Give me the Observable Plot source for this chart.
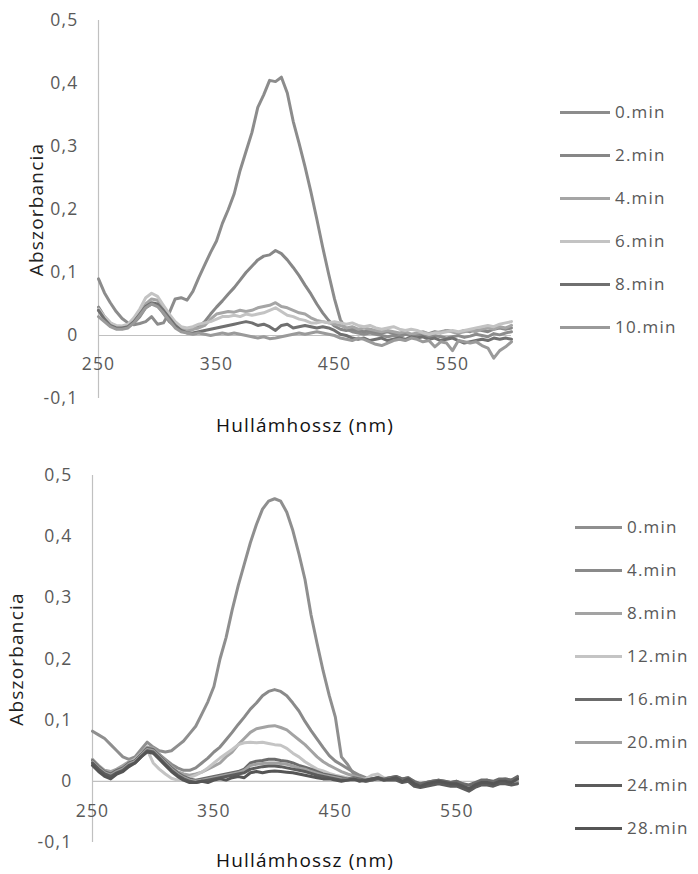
<!DOCTYPE html>
<html><head><meta charset="utf-8">
<script src="https://cdn.jsdelivr.net/npm/d3@7"></script>
<script src="https://cdn.jsdelivr.net/npm/@observablehq/plot@0.6"></script>
<style>
body{margin:0;background:#fff;width:698px;height:874px;position:relative;overflow:hidden;font-family:"Open Sans",Lato,sans-serif;}
.chart{position:absolute;left:0;}
.chart svg text{letter-spacing:1.2px;}
.item{position:absolute;display:flex;align-items:center;white-space:nowrap;font-size:17px;letter-spacing:1.2px;color:#595959;line-height:20px;}
.sw{display:inline-block;height:3px;margin-right:5px;}
</style></head><body>
<div id="top" class="chart" style="top:0"></div>
<div id="bottom" class="chart" style="top:440px"></div>
<div id="legTop"></div>
<div id="legBottom"></div>
<script>
const wavelengths = [250,255,260,265,270,275,280,285,290,295,300,305,310,315,320,325,330,335,340,345,350,355,360,365,370,375,380,385,390,395,400,405,410,415,420,425,430,435,440,445,450,455,460,465,470,475,480,485,490,495,500,505,510,515,520,525,530,535,540,545,550,555,560,565,570,575,580,585,590,595,600];
const xTicks = [250,350,450,550];
const yTicks = [-0.1,0,0.1,0.2,0.3,0.4,0.5];

// Chart 1
const names1 = ["0.min","2.min","4.min","6.min","8.min","10.min"];
const colors1 = ["#8c8c8c","#878787","#a5a5a5","#c3c3c3","#707070","#9a9a9a"];
const top_0min = [0.090,0.068,0.052,0.038,0.027,0.020,0.017,0.019,0.022,0.030,
 0.018,0.020,0.036,0.058,0.060,0.056,0.070,0.092,0.112,0.132,
 0.150,0.178,0.200,0.225,0.262,0.292,0.322,0.362,0.382,0.405,
 0.403,0.410,0.385,0.340,0.305,0.268,0.228,0.185,0.140,0.098,
 0.058,0.025,0.010,0.006,0.004,0.002,0.004,0.002,0.000,-0.002,
 0.000,-0.003,0.002,0.000,-0.002,0.001,-0.003,0.000,-0.002,-0.004,
 -0.002,0.000,-0.003,-0.001,0.002,0.000,-0.002,0.003,0.001,0.004,0.006];
const top_2min = [0.045,0.030,0.020,0.014,0.012,0.014,0.020,0.030,0.044,0.050,
 0.048,0.035,0.022,0.014,0.010,0.008,0.010,0.014,0.022,0.034,
 0.045,0.055,0.066,0.076,0.088,0.100,0.110,0.120,0.126,0.128,
 0.135,0.130,0.120,0.108,0.095,0.080,0.066,0.050,0.036,0.024,
 0.015,0.010,0.008,0.010,0.008,0.006,0.008,0.005,0.004,0.006,
 0.003,0.002,0.004,0.000,0.002,0.005,0.003,0.006,0.004,0.008,
 0.006,0.004,0.008,0.006,0.010,0.008,0.006,0.010,0.012,0.010,0.012];
const top_4min = [0.040,0.028,0.018,0.014,0.014,0.016,0.024,0.036,0.050,0.058,
 0.056,0.044,0.030,0.018,0.010,0.008,0.010,0.012,0.016,0.026,
 0.034,0.036,0.038,0.037,0.040,0.038,0.040,0.044,0.046,0.048,
 0.052,0.046,0.044,0.040,0.036,0.034,0.028,0.024,0.022,0.020,
 0.018,0.016,0.012,0.014,0.010,0.012,0.010,0.008,0.006,0.008,
 0.006,0.004,0.006,0.002,0.004,0.006,0.002,0.004,0.006,0.008,
 0.006,0.004,0.006,0.008,0.006,0.010,0.012,0.010,0.014,0.012,0.016];
const top_6min = [0.042,0.030,0.020,0.016,0.015,0.018,0.028,0.042,0.060,0.067,
 0.062,0.048,0.034,0.022,0.014,0.012,0.014,0.018,0.020,0.022,
 0.026,0.030,0.030,0.032,0.030,0.034,0.032,0.034,0.036,0.040,
 0.044,0.038,0.032,0.030,0.026,0.024,0.020,0.020,0.022,0.020,
 0.022,0.020,0.018,0.020,0.016,0.014,0.016,0.012,0.010,0.012,
 0.014,0.010,0.008,0.010,0.008,0.004,0.002,0.004,0.004,0.006,
 0.008,0.006,0.008,0.010,0.012,0.014,0.016,0.014,0.018,0.020,0.022];
const top_8min = [0.040,0.026,0.016,0.012,0.012,0.014,0.022,0.034,0.046,0.052,
 0.050,0.040,0.028,0.016,0.008,0.004,0.004,0.006,0.008,0.010,
 0.012,0.014,0.016,0.018,0.020,0.022,0.020,0.016,0.018,0.014,
 0.008,0.016,0.018,0.012,0.014,0.016,0.014,0.012,0.014,0.012,
 0.008,0.002,0.000,-0.004,-0.006,-0.004,-0.008,-0.006,-0.004,-0.008,
 -0.006,-0.004,-0.006,-0.002,-0.004,-0.002,-0.006,-0.004,-0.008,-0.006,
 -0.004,-0.008,-0.012,-0.010,-0.008,-0.006,-0.008,-0.004,-0.006,-0.004,-0.006];
const top_10min = [0.030,0.022,0.014,0.010,0.010,0.012,0.020,0.032,0.044,0.050,
 0.046,0.036,0.024,0.012,0.006,0.004,0.002,0.004,0.002,0.000,
 0.002,0.004,0.002,0.004,0.002,0.000,-0.002,-0.004,-0.002,-0.005,
 -0.004,-0.002,0.000,0.002,0.004,0.002,0.004,0.006,0.004,0.002,
 0.000,-0.004,-0.006,-0.008,-0.004,-0.006,-0.010,-0.014,-0.016,-0.012,
 -0.008,-0.006,-0.008,-0.004,-0.006,-0.010,-0.008,-0.018,-0.010,-0.012,
 -0.024,-0.008,-0.010,-0.012,-0.010,-0.016,-0.020,-0.036,-0.024,-0.018,-0.010];
const values1 = [top_0min, top_2min, top_4min, top_6min, top_8min, top_10min];

// Chart 2
const names2 = ["0.min","4.min","8.min","12.min","16.min","20.min","24.min","28.min"];
const colors2 = ["#8f8f8f","#8a8a8a","#a3a3a3","#c4c4c4","#6b6b6b","#a0a0a0","#5c5c5c","#555555"];
const bot_0min = [0.082,0.076,0.070,0.060,0.050,0.040,0.036,0.040,0.052,0.064,
 0.056,0.050,0.048,0.050,0.058,0.066,0.078,0.090,0.110,0.130,
 0.155,0.200,0.235,0.280,0.320,0.355,0.390,0.420,0.445,0.458,
 0.462,0.458,0.440,0.410,0.372,0.330,0.272,0.225,0.180,0.140,
 0.105,0.040,0.028,0.012,0.006,0.004,0.002,0.005,0.004,0.006,
 0.008,0.004,0.006,-0.002,-0.004,-0.002,0.000,0.002,0.000,-0.002,
 0.000,-0.004,-0.008,-0.004,0.000,0.002,-0.002,0.002,0.004,0.002,0.006];
const bot_4min = [0.030,0.022,0.016,0.014,0.018,0.024,0.030,0.034,0.044,0.054,
 0.052,0.044,0.036,0.028,0.022,0.018,0.018,0.022,0.030,0.038,
 0.048,0.056,0.068,0.080,0.093,0.105,0.118,0.128,0.140,0.147,
 0.150,0.147,0.140,0.128,0.115,0.098,0.083,0.069,0.055,0.042,
 0.033,0.027,0.021,0.015,0.010,0.006,0.004,0.006,0.004,0.006,
 0.006,0.002,0.004,-0.004,-0.006,-0.002,0.000,0.000,-0.002,-0.004,
 -0.002,-0.006,-0.010,-0.006,-0.002,0.000,-0.004,0.000,0.002,0.000,0.004];
const bot_8min = [0.036,0.026,0.018,0.016,0.020,0.026,0.032,0.036,0.046,0.056,
 0.054,0.044,0.034,0.024,0.016,0.012,0.010,0.012,0.015,0.020,
 0.025,0.030,0.040,0.048,0.060,0.070,0.080,0.086,0.088,0.090,
 0.091,0.088,0.084,0.076,0.068,0.060,0.050,0.040,0.032,0.026,
 0.021,0.016,0.012,0.009,0.006,0.004,0.002,0.006,0.004,0.004,
 0.006,0.002,0.002,-0.004,-0.006,-0.004,-0.002,0.000,-0.002,-0.004,
 -0.004,-0.008,-0.010,-0.006,-0.002,-0.002,-0.004,-0.002,0.000,-0.002,0.002];
const bot_12min = [0.028,0.020,0.014,0.012,0.016,0.022,0.030,0.036,0.046,0.052,
 0.030,0.020,0.012,0.005,0.002,0.003,0.006,0.010,0.015,0.022,
 0.030,0.038,0.045,0.052,0.060,0.063,0.064,0.063,0.064,0.062,
 0.060,0.059,0.054,0.046,0.040,0.032,0.026,0.020,0.017,0.013,
 0.010,0.008,0.006,0.004,0.002,0.004,0.010,0.012,0.006,0.004,
 0.004,0.000,0.002,-0.006,-0.008,-0.006,-0.004,-0.002,-0.004,-0.006,
 -0.006,-0.010,-0.012,-0.008,-0.004,-0.004,-0.006,-0.004,-0.002,-0.004,0.000];
const bot_16min = [0.034,0.024,0.016,0.012,0.018,0.022,0.030,0.034,0.044,0.054,
 0.052,0.042,0.032,0.022,0.014,0.008,0.004,0.002,0.004,0.006,
 0.008,0.010,0.012,0.014,0.016,0.020,0.030,0.033,0.034,0.036,
 0.036,0.034,0.033,0.030,0.026,0.023,0.020,0.016,0.012,0.010,
 0.008,0.006,0.004,0.006,0.004,0.002,0.004,0.006,0.004,0.006,
 0.008,0.004,0.006,0.000,-0.004,-0.002,0.000,0.002,0.000,-0.002,
 0.000,-0.004,-0.006,-0.002,0.002,0.002,0.000,0.004,0.004,0.002,0.008];
const bot_20min = [0.032,0.022,0.014,0.010,0.016,0.020,0.028,0.032,0.042,0.052,
 0.050,0.040,0.030,0.020,0.012,0.006,0.002,0.000,0.002,0.004,
 0.006,0.008,0.010,0.012,0.014,0.018,0.026,0.028,0.029,0.030,
 0.030,0.029,0.028,0.025,0.022,0.020,0.016,0.013,0.010,0.008,
 0.006,0.004,0.003,0.004,0.002,0.000,0.002,0.004,0.002,0.004,
 0.004,0.000,0.002,-0.006,-0.008,-0.006,-0.004,-0.002,-0.004,-0.006,
 -0.006,-0.010,-0.014,-0.008,-0.004,-0.004,-0.006,-0.002,-0.002,-0.004,-0.002];
const bot_24min = [0.030,0.020,0.012,0.008,0.014,0.018,0.026,0.030,0.040,0.050,
 0.048,0.038,0.028,0.018,0.010,0.004,0.000,-0.002,0.000,0.002,
 0.004,0.006,0.008,0.010,0.012,0.014,0.020,0.022,0.024,0.025,
 0.025,0.024,0.022,0.020,0.018,0.016,0.013,0.010,0.008,0.006,
 0.004,0.002,0.002,0.003,0.002,0.000,0.002,0.004,0.002,0.002,
 0.002,-0.002,0.000,-0.008,-0.010,-0.008,-0.006,-0.004,-0.006,-0.008,
 -0.008,-0.012,-0.016,-0.010,-0.006,-0.006,-0.008,-0.004,-0.004,-0.006,-0.004];
const bot_28min = [0.026,0.016,0.008,0.004,0.012,0.016,0.024,0.030,0.040,0.048,
 0.046,0.036,0.026,0.016,0.008,0.002,-0.002,-0.002,0.000,-0.002,
 0.002,0.004,0.002,0.006,0.008,0.006,0.014,0.016,0.014,0.016,
 0.017,0.016,0.015,0.014,0.012,0.010,0.008,0.006,0.004,0.004,
 0.002,0.000,0.002,0.004,0.000,0.002,0.004,0.006,0.002,0.004,
 0.006,0.000,0.004,-0.004,-0.008,-0.004,-0.002,0.000,-0.002,-0.004,
 -0.004,-0.008,-0.012,-0.006,-0.002,-0.002,-0.004,0.000,0.000,-0.002,0.004];
const values2 = [bot_0min, bot_4min, bot_8min, bot_12min, bot_16min, bot_20min, bot_24min, bot_28min];

const fmt = d => d === 0 ? "0" : d.toFixed(1).replace(".", ",");
const FONT = "'Open Sans', Lato, sans-serif";

function makeChart(cfg) {
  const lines = cfg.values.map((vals, i) =>
    Plot.line(wavelengths.map((w, j) => ({w, a: vals[j]})), {
      x: "w", y: "a", stroke: cfg.colors[i], strokeWidth: 3, strokeLinejoin: "round", strokeLinecap: "round"
    })
  );
  return Plot.plot({
    width: cfg.width, height: cfg.height,
    marginLeft: cfg.ml, marginRight: cfg.mr, marginTop: cfg.mt, marginBottom: cfg.mb,
    style: {fontFamily: FONT, background: "transparent", overflow: "visible"},
    x: {domain: [250, 600], axis: null},
    y: {domain: [-0.1, 0.5], axis: null},
    marks: [
      Plot.ruleY([0], {stroke: "#c0c0c0", strokeWidth: 1.2}),
      Plot.ruleX([250], {stroke: "#c0c0c0", strokeWidth: 1.2}),
      ...lines,
      Plot.text(xTicks, {x: d => d, y: 0, dy: cfg.tickDy, text: d => String(d), fill: "#595959", fontSize: 17.5}),
      Plot.text(yTicks, {x: 250, y: d => d, dx: -20, textAnchor: "end", text: fmt, fill: "#595959", fontSize: 17.5}),
      Plot.text(["Hullámhossz (nm)"], {frameAnchor: "bottom", dy: cfg.titleDy, fill: "#111", fontSize: 19}),
      Plot.text(["Abszorbancia"], {frameAnchor: "left", textAnchor: "middle", dx: cfg.yTitleDx, rotate: -90, fill: "#222", fontSize: 19})
    ]
  });
}

document.getElementById("top").append(makeChart({
  width: 520, height: 440, ml: 98, mr: 9, mt: 20, mb: 42,
  values: values1, colors: colors1, tickDy: 29, titleDy: 33, yTitleDx: -62
}));
document.getElementById("bottom").append(makeChart({
  width: 530, height: 434, ml: 92, mr: 13, mt: 35, mb: 32,
  values: values2, colors: colors2, tickDy: 30, titleDy: 24, yTitleDx: -76
}));

function legend(el, names, colors, x0, y0, step, swW) {
  names.forEach((n, i) => {
    const d = document.createElement("div");
    d.className = "item";
    d.style.left = x0 + "px";
    d.style.top = (y0 + i * step - 10) + "px";
    const s = document.createElement("span");
    s.className = "sw";
    s.style.width = swW + "px";
    s.style.background = colors[i];
    d.append(s, document.createTextNode(n));
    el.append(d);
  });
}
legend(document.getElementById("legTop"), names1, colors1, 560, 112, 43, 50);
legend(document.getElementById("legBottom"), names2, colors2, 575, 527, 43, 47);
</script>
</body></html>
